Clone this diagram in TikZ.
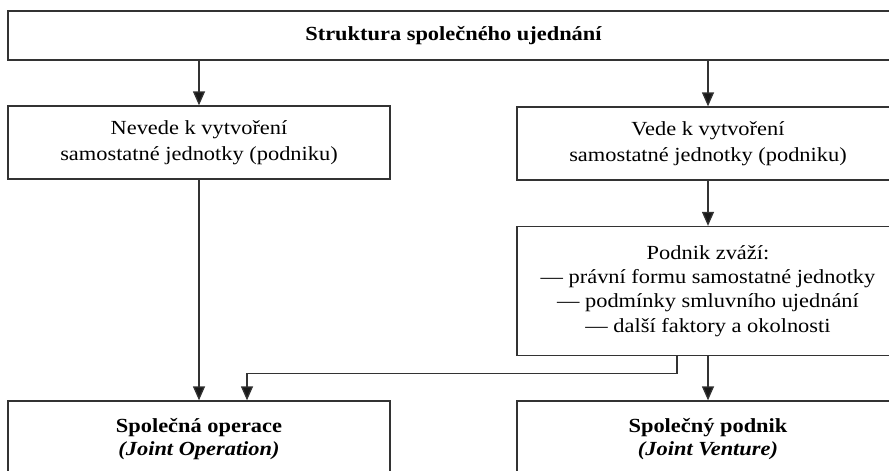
\documentclass[tikz,border=0pt]{standalone}
\usepackage{fontspec}
\setmainfont[FakeStretch=1.12]{Liberation Serif}
\usetikzlibrary{arrows.meta,calc}
\begin{document}
\begin{tikzpicture}[x=1pt,y=-1pt,
  box/.style={draw=black!80,line width=1.3pt,minimum width=382pt,align=center,inner sep=0pt,
    font=\fontsize{20}{26}\selectfont},
  arr/.style={draw=black!80,line width=1.3pt,-{Triangle[width=12pt,length=14pt,fill=black!90]}}]
\useasboundingbox (0,0) rectangle (889,471);
\clip (0,0) rectangle (889,471);
\node[box,minimum width=891pt,minimum height=49pt,font=\fontsize{20}{24}\selectfont\bfseries] (top) at (453.5,35.5) {Struktura společného ujednání};
\node[box,minimum height=73pt] (left) at (199,142.5) {Nevede k vytvoření\\samostatné jednotky (podniku)};
\node[box,minimum height=73pt] (right) at (708,143.5) {Vede k vytvoření\\samostatné jednotky (podniku)};
\node[box,minimum height=129pt,font=\fontsize{20}{24.3}\selectfont] (podnik) at (708,291) {Podnik zváží:\\— právní formu samostatné jednotky\\— podmínky smluvního ujednání\\— další faktory a okolnosti};
\node[box,minimum height=76pt,font=\fontsize{20}{23}\selectfont\bfseries] (jo) at (199,439) {Společná operace\\\textit{(Joint Operation)}};
\node[box,minimum height=76pt,font=\fontsize{20}{23}\selectfont\bfseries] (jv) at (708,439) {Společný podnik\\\textit{(Joint Venture)}};
\draw[arr] (left.north |- top.south) -- (left.north);
\draw[arr] (right.north |- top.south) -- (right.north);
\draw[arr] (left.south) -- (jo.north);
\draw[arr] (right.south) -- (podnik.north);
\draw[arr] (podnik.south) -- (jv.north);
\draw[arr] ($(podnik.south)+(-31,0)$) -- ++(0,17) -| ($(jo.north)+(48,0)$);
\end{tikzpicture}
\end{document}
